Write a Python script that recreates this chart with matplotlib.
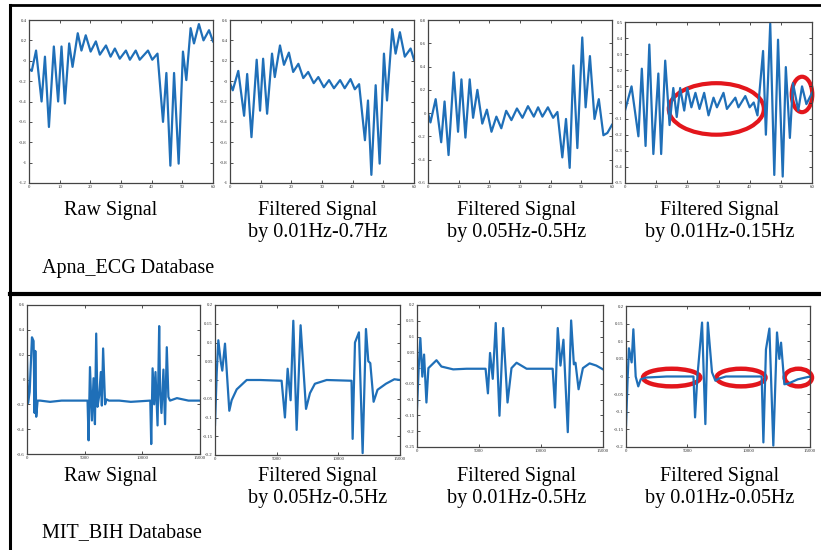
#plot.py
#ECG filtering comparison, two databases, four panels each
import matplotlib
matplotlib.use("Agg")
import matplotlib.pyplot as plt
from matplotlib.patches import Ellipse
from matplotlib.lines import Line2D
import numpy as np

plt.rcParams['font.family'] = ['Liberation Serif', 'DejaVu Serif']

#Apna_ECG, time axis 0..60
apna_raw_t = [0, 0.9, 2.3, 4.1, 5.2, 6.5, 8.1, 9.5, 10.6, 11.7, 13.1, 14.2, 15.9, 17.1, 18.5, 20.1,
              21.8, 23.1, 25.1, 26.6, 28.0, 29.6, 31.6, 32.9, 34.8, 36.1, 38.8, 40.2, 41.9, 43.7,
              44.8, 46.1, 47.3, 48.8, 50.2, 51.3, 52.7, 53.8, 55.4, 56.9, 58.7, 60]
apna_raw_y = [-0.08, -0.10, 0.10, -0.40, 0.04, -0.65, 0.14, -0.40, 0.14, -0.42, 0.17, -0.06, 0.27, 0.10,
              0.25, 0.09, 0.19, 0.06, 0.15, 0.04, 0.12, 0.02, 0.10, 0.01, 0.10, 0.01, 0.10, 0.01, 0.07,
              -0.60, -0.12, -1.03, -0.12, -1.01, 0.09, -0.19, 0.32, 0.17, 0.36, 0.20, 0.30, 0.19]

apna_f1_t = [0, 0.9, 2.7, 4.6, 5.6, 7.0, 8.7, 9.8, 10.8, 12.1, 13.7, 14.6, 16.3, 17.6, 19.2, 20.6,
             22.3, 23.9, 25.5, 27.3, 28.8, 30.6, 32.3, 33.9, 35.9, 37.4, 39.3, 40.7, 42.1, 44.0,
             45.0, 46.1, 47.5, 48.8, 50.2, 51.2, 52.9, 54.0, 55.4, 57.0, 58.9, 60]
apna_f1_y = [-0.02, -0.09, 0.10, -0.34, 0.07, -0.55, 0.21, -0.29, 0.22, -0.32, 0.27, 0.04, 0.35, 0.16,
             0.28, 0.09, 0.17, 0.03, 0.09, -0.02, 0.04, -0.06, 0.01, -0.07, 0.01, -0.07, 0.02, -0.08,
             -0.03, -0.58, -0.19, -0.92, -0.04, -0.81, 0.27, -0.19, 0.51, 0.27, 0.48, 0.24, 0.32, 0.21]

apna_f2_t = [0, 0.8, 2.5, 4.3, 5.4, 6.7, 8.4, 9.8, 10.9, 12.2, 13.6, 14.7, 16.1, 17.7, 19.2, 20.7,
             22.3, 23.9, 25.5, 27.2, 29.0, 30.8, 32.6, 34.5, 35.9, 37.3, 39.1, 40.8, 42.2, 43.8,
             45.0, 46.2, 47.4, 48.7, 50.3, 51.4, 52.8, 54.3, 55.7, 57.2, 58.5, 60]
apna_f2_y = [0.0, -0.08, 0.12, -0.25, 0.10, -0.36, 0.35, -0.16, 0.29, -0.21, 0.29, -0.04, 0.20, -0.09,
             0.03, -0.16, -0.03, -0.13, 0.02, -0.06, 0.04, -0.04, 0.06, -0.03, 0.05, -0.03, 0.05, -0.04,
             0.01, -0.38, -0.05, -0.47, 0.41, -0.30, 0.65, 0.05, 0.49, -0.05, 0.12, -0.19, -0.17, -0.10]

apna_f3_t = [0, 2.1, 4.3, 5.4, 6.6, 7.8, 9.1, 10.7, 11.6, 12.9, 14.3, 15.5, 16.6, 17.7, 19.0, 20.0,
             21.3, 22.6, 23.9, 25.4, 26.8, 28.4, 29.5, 31.6, 32.7, 35.4, 36.4, 38.6, 40.0, 41.3,
             42.5, 44.3, 45.2, 46.6, 47.9, 49.1, 50.6, 51.6, 52.9, 53.9, 55.6, 56.8, 58.2, 60]
apna_f3_y = [-0.05, 0.10, -0.21, 0.21, -0.27, 0.36, -0.32, 0.18, -0.32, 0.26, -0.14, 0.09, -0.09, 0.09,
             -0.05, 0.09, -0.03, 0.06, -0.04, 0.06, -0.08, 0.03, -0.03, 0.06, -0.04, 0.03, -0.03, 0.04,
             -0.03, 0.00, -0.08, 0.32, -0.20, 0.49, -0.45, 0.39, -0.46, 0.22, -0.22, 0.12, -0.05, 0.10,
             -0.01, 0.06]

#MIT_BIH, samples 0..15000
mit_raw_t = [0, 90, 230, 430, 570, 660, 720, 800, 920, 1140, 2000, 3000, 4000, 5250, 5340, 5460,
             5630, 5770, 5890, 6000, 6110, 6260, 6400, 6490, 6600, 6770, 6890, 7100, 8000, 9000,
             10690, 10770, 10890, 11030, 11140, 11320, 11460, 11540, 11660, 11830, 11970, 12120,
             12260, 12400, 13000, 14000, 15000]
mit_raw_y = [0.18, -0.19, -0.10, 0.34, 0.31, -0.27, 0.23, -0.30, -0.17, -0.17, -0.18, -0.17, -0.17,
             -0.17, -0.49, 0.10, -0.33, 0.01, -0.36, 0.37, -0.22, -0.13, 0.06, -0.21, 0.25, -0.20,
             -0.16, -0.17, -0.17, -0.18, -0.17, -0.52, 0.09, -0.20, 0.06, -0.37, 0.43, -0.10, -0.27,
             0.08, -0.36, 0.26, -0.14, -0.17, -0.15, -0.17, -0.17]

mit_f1_t = [0, 140, 270, 460, 590, 810, 1160, 1350, 1760, 2570, 3650, 5400, 5670, 5890, 6130, 6350,
            6620, 6940, 7380, 7700, 8100, 9050, 11070, 11160, 11350, 11670, 11970, 12240, 12430,
            12590, 12860, 13180, 13860, 14540, 15000]
mit_f1_y = [-0.12, 0.02, 0.106, 0.05, 0.025, 0.097, -0.082, -0.054, -0.025, 0.0, 0.0, -0.002, -0.10,
            0.03, -0.054, 0.158, -0.133, 0.146, -0.077, -0.035, -0.01, 0.0, -0.002, -0.157, 0.10,
            0.127, -0.195, 0.136, 0.05, 0.045, -0.058, -0.026, -0.01, 0.002, 0.0]

mit_f2_t = [0, 135, 270, 430, 570, 760, 920, 1570, 1970, 2920, 4000, 5530, 5720, 5890, 6110, 6350,
            6650, 6950, 7300, 7620, 8030, 8840, 10940, 11130, 11350, 11570, 11810, 12160, 12430,
            12650, 12780, 13030, 13380, 13920, 14460, 15000]
mit_f2_y = [-0.13, 0.0, 0.095, -0.027, 0.043, -0.109, 0.0, 0.025, 0.005, -0.004, -0.002, -0.002,
            -0.08, 0.048, -0.034, 0.143, -0.151, 0.127, -0.109, 0.0, 0.017, -0.002, -0.002, -0.125,
            0.127, 0.008, 0.09, -0.203, 0.151, 0.012, 0.017, -0.067, 0.0, 0.015, 0.008, -0.004]

mit_f3_t = [0, 140, 240, 460, 600, 790, 1000, 1200, 1630, 3320, 5500, 5630, 5820, 6200, 6470, 6670,
            7010, 7290, 7550, 8150, 11060, 11200, 11410, 11690, 12010, 12310, 12500, 12640, 12910,
            13240, 14000, 15000]
mit_f3_y = [-0.14, 0.0, 0.08, 0.04, 0.134, 0.0, -0.028, -0.008, -0.003, 0.0, 0.0, -0.116, 0.0, 0.153,
            -0.135, 0.153, 0.012, -0.012, -0.006, 0.0, 0.0, -0.187, 0.077, 0.136, -0.196, 0.125, 0.05,
            0.096, -0.022, -0.02, -0.008, 0.0]

#labels
top_labels = ["Raw Signal", "Filtered Signal\nby 0.01Hz-0.7Hz",
              "Filtered Signal\nby 0.05Hz-0.5Hz", "Filtered Signal\nby 0.01Hz-0.15Hz"]
bottom_labels = ["Raw Signal", "Filtered Signal\nby 0.05Hz-0.5Hz",
                 "Filtered Signal\nby 0.01Hz-0.5Hz", "Filtered Signal\nby 0.01Hz-0.05Hz"]
db_names = ["Apna_ECG Database", "MIT_BIH Database"]

W, H = 821, 550
blue = "#1f6fb8"
red = "#e3161c"

fig = plt.figure(figsize=(W / 100, H / 100), dpi=100)

def px_axes(x0, y0, x1, y1):
    #pixel box (top-left origin) -> figure axes
    return fig.add_axes([x0 / W, 1 - y1 / H, (x1 - x0) / W, (y1 - y0) / H])

def style(ax, xlim, ylim, xt, yt, xtl, ytl):
    ax.set_xlim(xlim)
    ax.set_ylim(ylim)
    ax.set_xticks(xt)
    ax.set_yticks(yt)
    ax.set_xticklabels(xtl)
    ax.set_yticklabels(ytl)
    ax.tick_params(direction="in", length=2.5, width=0.6, labelsize=3.5, pad=1.5,
                   top=True, right=True, colors="#333333")
    for s in ax.spines.values():
        s.set_linewidth(0.9)
        s.set_color("#444444")

apna_boxes = [(29, 20, 213, 183), (230, 20, 414, 183), (428, 20, 612, 183), (625, 22, 812, 183)]
apna_data = [(apna_raw_t, apna_raw_y), (apna_f1_t, apna_f1_y), (apna_f2_t, apna_f2_y), (apna_f3_t, apna_f3_y)]
apna_ylims = [(-1.2, 0.4), (-1.0, 0.6), (-0.6, 0.8), (-0.5, 0.5)]
apna_ysteps = [0.2, 0.2, 0.2, 0.1]

for box, (t, y), yl, st in zip(apna_boxes, apna_data, apna_ylims, apna_ysteps):
    ax = px_axes(*box)
    ax.plot(t, y, color=blue, lw=1.6, solid_joinstyle="round")
    yt = np.round(np.arange(yl[0], yl[1] + 1e-9, st), 2)
    style(ax, (0, 60), yl, range(0, 61, 10), yt,
          [str(v) for v in range(0, 61, 10)], ["%g" % v for v in yt])
    last = ax

#red marks on the last Apna panel
last.add_patch(Ellipse((29.3, -0.04), 30.5, 0.32, fill=False, ec=red, lw=3, clip_on=False))
last.add_patch(Ellipse((56.8, 0.05), 6.6, 0.22, fill=False, ec=red, lw=3, clip_on=False))

mit_boxes = [(27, 305, 200, 454), (215, 305, 400, 455), (417, 305, 603, 447), (626, 306, 810, 447)]
mit_data = [(mit_raw_t, mit_raw_y), (mit_f1_t, mit_f1_y), (mit_f2_t, mit_f2_y), (mit_f3_t, mit_f3_y)]
mit_ylims = [(-0.6, 0.6), (-0.2, 0.2), (-0.25, 0.2), (-0.2, 0.2)]
mit_ysteps = [0.2, 0.05, 0.05, 0.05]

for box, (t, y), yl, st in zip(mit_boxes, mit_data, mit_ylims, mit_ysteps):
    ax = px_axes(*box)
    ax.plot(t, y, color=blue, lw=1.6, solid_joinstyle="round")
    yt = np.round(np.arange(yl[0], yl[1] + 1e-9, st), 2)
    style(ax, (0, 15000), yl, [0, 5000, 10000, 15000], yt,
          ["0", "5000", "10000", "15000"], ["%g" % v for v in yt])
    last = ax

for xc, w in [(3723, 4674), (9375, 3995), (14049, 2228)]:
    last.add_patch(Ellipse((xc, -0.003), w, 0.05, fill=False, ec=red, lw=3.2, clip_on=False))

#captions, one line at a time
centers = [111, 318, 517, 720]
for row_labels, y1, y2 in [(top_labels, 211, 233), (bottom_labels, 477, 498)]:
    for xc, lab in zip(centers, row_labels):
        lines = lab.split("\n")
        fig.text(xc / W, 1 - y1 / H, lines[0], ha="center", va="center", fontsize=14.5)
        if len(lines) > 1:
            fig.text(xc / W, 1 - y2 / H, lines[1], ha="center", va="center", fontsize=14.5)
fig.text(42 / W, 1 - 268 / H, db_names[0], ha="left", va="center", fontsize=14.5)
fig.text(42 / W, 1 - 533 / H, db_names[1], ha="left", va="center", fontsize=14.5)

#frame lines
fig.add_artist(Line2D([10 / W, 1], [1 - 5 / H, 1 - 5 / H], color="black", lw=2))
fig.add_artist(Line2D([10 / W, 10 / W], [0, 1 - 5 / H], color="black", lw=2.2))
fig.add_artist(Line2D([10 / W, 1], [1 - 294 / H, 1 - 294 / H], color="black", lw=3))

fig.savefig("out.png", dpi=100, facecolor="white")
